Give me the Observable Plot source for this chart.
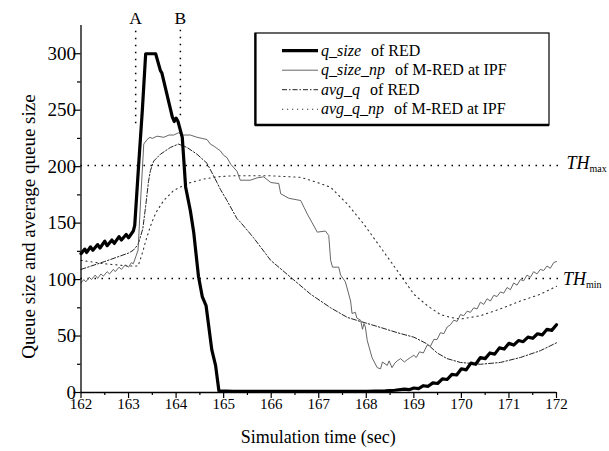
<!DOCTYPE html>
<html><head><meta charset="utf-8">
<script src="https://cdn.jsdelivr.net/npm/d3@7"></script>
<script src="https://cdn.jsdelivr.net/npm/@observablehq/plot@0.6"></script>
<style>
body{margin:0;background:#fff;}
#chart{width:609px;height:451px;}
</style></head><body><div id="chart"></div>
<script>
// ---- data ----
const qSizeT = [162.0,162.08,162.12,162.2,162.25,162.35,162.4,162.5,162.55,162.65,162.7,162.8,162.85,162.95,163.0,163.1,163.13,163.21,163.29,163.36,163.57,163.67,163.7,163.92,163.96,164.0,164.04,164.13,164.2,164.3,164.37,164.47,164.55,164.63,164.75,164.83,164.9,165.2,166.0,167.0,168.0,168.4,168.6,168.8,168.9,169.0,169.1,169.2,169.3,169.4,169.5,169.6,169.7,169.8,169.9,170.0,170.1,170.2,170.3,170.4,170.5,170.6,170.7,170.8,170.9,171.0,171.1,171.2,171.3,171.4,171.5,171.6,171.7,171.8,171.9,172.0];
const qSizeV = [123,127,124,129,126,131,128,134,130,135,132,138,135,140,137,143,148,200,250,300,300,285,283,244,240,243,240,226,182,161,142,103,85,77,38,24,1.5,1,1,1,1,1.5,2,3,2.5,4,3.5,6,5.5,8.5,8,12,11.5,16,15.5,21,20,26,25,31,30,35,34,39.5,38.5,43.5,42,46,45,49,48,52,51,56,55,60,64];

const qNpT = [162.0,162.06,162.1,162.18,162.22,162.3,162.35,162.42,162.47,162.55,162.6,162.68,162.72,162.8,162.85,162.93,163.0,163.06,163.1,163.15,163.2,163.26,163.32,163.39,163.45,163.5,163.6,163.74,163.85,163.95,164.05,164.16,164.3,164.44,164.55,164.65,164.72,164.8,164.93,165.0,165.07,165.15,165.28,165.35,165.56,165.7,165.84,165.99,166.16,166.2,166.37,166.62,166.69,166.76,166.97,167.14,167.21,167.25,167.29,167.42,167.46,167.56,167.67,167.7,167.77,167.8,167.88,167.92,167.95,167.98,168.02,168.12,168.23,168.3,168.34,168.44,168.48,168.54,168.6,168.65,168.72,168.8,168.86,168.93,169.0,169.05,169.12,169.2,169.28,169.35,169.42,169.49,169.56,169.63,169.7,169.77,169.84,169.91,169.98,170.05,170.12,170.19,170.26,170.33,170.4,170.47,170.54,170.61,170.68,170.75,170.82,170.89,170.96,171.03,171.1,171.17,171.24,171.31,171.38,171.45,171.52,171.59,171.66,171.73,171.8,171.87,171.94,172.0];
const qNpV = [97,100,98,102,100,104,101,105,103,107,105,109,107,111,109,113,111,115,114,120,126,175,220,224,226,225,227,226,228,228,230,228,228,226,225,224,220,218,214,210,208,202,196,188,188,190,191,186,185,176,172,170,164,158,142,143,139,117,111,111,104,98,81,70,71,66,64,56,61,58,46,31,22,21,27,24,28,22,26,28,30,27,29,31,33,31,36,35,42,41,47,47,53,52,58,60,64,63,69,68,72,71,75,74,80,78,83,81,86,85,89,88,93,91,97,95,100,99,104,102,107,105,109,108,112,110,115,116];

const avgQT = [162.0,162.5,163.0,163.1,163.2,163.3,163.36,163.42,163.46,163.53,163.67,163.88,164.05,164.23,164.44,164.65,164.86,164.93,165.07,165.28,165.35,165.63,165.99,166.41,166.83,167.25,167.6,167.95,168.3,168.65,169.0,169.28,169.49,169.7,169.98,170.4,170.82,171.24,171.66,172.0];
const avgQV = [109,116,123.5,126,131,145,165,187,196.5,205,211,217,220,217,211,203,186,180,170,154,151,137,117,102,87,75,66.5,62,57.6,53,49,43,35,30,26.6,25,26.6,31,37,44];

const avgNpT = [162.0,162.5,163.0,163.2,163.28,163.36,163.45,163.53,163.6,163.74,163.95,164.05,164.23,164.58,164.86,165.21,165.92,166.62,166.97,167.25,167.6,167.95,168.3,168.65,169.0,169.28,169.56,169.77,169.98,170.4,170.82,171.24,171.66,172.0];
const avgNpV = [117,114,112,112,122,134,146,155,161,170,179,181,185,189,191,192,192,190.6,186,181.7,167,149,128.5,108,87,77,69,66.5,65,68,74,81,87,94];

const xTicks = [162,163,164,165,166,167,168,169,170,171,172];
const xMinor = [162.5,163.5,164.5,165.5,166.5,167.5,168.5,169.5,170.5,171.5];
const yTicks = [0,50,100,150,200,250,300];
const yMinor = [25,75,125,175,225,275];
const thresholds = [{v:201, sub:"max"}, {v:101, sub:"min"}];
const markers = [{t:163.15, label:"A", low:238}, {t:164.09, label:"B", low:245}];
const legendNames = ["q_size","q_size_np","avg_q","avg_q_np"];
const legendRest = ["of RED","of M-RED at IPF","of RED","of M-RED at IPF"];
const xTitle = "Simulation time (sec)";
const yTitle = "Queue size and average queue size";

// ---- drawing ----
const zip = (T, V) => T.map((t, i) => ({t, v: V[i]}));
const font = "'Liberation Serif', 'Times New Roman', serif";
const dotted = "1.5,5.5";
const styles = [
  {stroke:"black", strokeWidth:3.2},
  {stroke:"#555", strokeWidth:0.9},
  {stroke:"#222", strokeWidth:1, strokeDasharray:"5,2,1.5,2"},
  {stroke:"#333", strokeWidth:1.1, strokeDasharray:"1.2,3.8"}
];
const blank = () => "";

const plot = Plot.plot({
  width: 609, height: 451,
  marginLeft: 80.5, marginRight: 53, marginTop: 25, marginBottom: 59,
  style: {fontFamily: font, background: "white", color: "black", overflow: "visible"},
  x: {domain: [162, 172]},
  y: {domain: [0, 325]},
  marks: [
    Plot.ruleY(thresholds, {y: "v", x1: 162, x2: 172.12, stroke: "black", strokeWidth: 1.5, strokeDasharray: dotted}),
    Plot.ruleX(markers, {x: "t", y1: "low", y2: 322, stroke: "black", strokeWidth: 1.5, strokeDasharray: dotted}),
    Plot.text(markers, {x: "t", y: 325, text: "label", dy: -7, fontSize: 17.5}),
    Plot.line(zip(avgNpT, avgNpV), {x: "t", y: "v", ...styles[3]}),
    Plot.line(zip(avgQT, avgQV), {x: "t", y: "v", ...styles[2]}),
    Plot.line(zip(qNpT, qNpV), {x: "t", y: "v", ...styles[1]}),
    Plot.line(zip(qSizeT, qSizeV), {x: "t", y: "v", ...styles[0], strokeLinejoin: "round"}),
    Plot.ruleX([162], {y1: 0, y2: 325, stroke: "black", strokeWidth: 1.3}),
    Plot.ruleY([0], {x1: 162, x2: 172, stroke: "black", strokeWidth: 1.3}),
    Plot.axisX({ticks: xTicks, tickSize: 6, strokeWidth: 1.2, label: null, tickFormat: blank}),
    Plot.axisX({ticks: xMinor, tickSize: 3, strokeWidth: 1.2, label: null, tickFormat: blank}),
    Plot.axisX({ticks: xTicks, tickSize: 0, tickPadding: 6, fontSize: 15, label: null, tickFormat: d => String(d)}),
    Plot.axisY({ticks: yTicks, tickSize: 7, strokeWidth: 1.2, label: null, tickFormat: blank}),
    Plot.axisY({ticks: yMinor, tickSize: 3.5, strokeWidth: 1.2, label: null, tickFormat: blank}),
    Plot.axisY({ticks: yTicks, tickSize: 0, tickPadding: 5, fontSize: 19, label: null, tickFormat: d => String(d)})
  ]
});
document.getElementById("chart").appendChild(plot);

const xs = plot.scale("x"), ys = plot.scale("y");
const svg = d3.select(plot);
const extra = svg.append("g").attr("font-family", font).attr("fill", "black");

// axis titles
extra.append("text").attr("transform", `translate(35,226.5) rotate(-90)`)
  .attr("text-anchor", "middle").attr("font-size", 19).text(yTitle);
extra.append("text").attr("x", (xs.apply(162) + xs.apply(172)) / 2).attr("y", ys.apply(0) + 50.5)
  .attr("text-anchor", "middle").attr("font-size", 18).text(xTitle);

// threshold labels TH_max / TH_min
thresholds.forEach((d, i) => {
  const t = extra.append("text").attr("text-anchor", "start")
    .attr("x", xs.apply(172) + (i === 0 ? 10.5 : 7))
    .attr("y", ys.apply(d.v) + (i === 0 ? 3.5 : 7));
  t.append("tspan").attr("font-style", "italic").attr("font-size", 18).text("TH");
  t.append("tspan").attr("font-size", 10).attr("dy", 3.5).text(d.sub);
});

// legend box inside the plot area
const lg = svg.append("g").attr("font-family", font).attr("font-size", 16).attr("text-anchor", "start");
lg.append("rect").attr("x", 255).attr("y", 33).attr("width", 294).attr("height", 92)
  .attr("fill", "white").attr("stroke", "black").attr("stroke-width", 1.2);
lg.append("line").attr("x1", 255.5).attr("x2", 255.5).attr("y1", 33).attr("y2", 125.5).attr("stroke", "black").attr("stroke-width", 2.2);
lg.append("line").attr("x1", 255).attr("x2", 549).attr("y1", 125).attr("y2", 125).attr("stroke", "black").attr("stroke-width", 2.4);
legendNames.forEach((name, i) => {
  const y = 50.7 + i * 19.5;
  const s = styles[i];
  lg.append("line").attr("x1", 282).attr("x2", 318).attr("y1", y).attr("y2", y)
    .attr("stroke", s.stroke).attr("stroke-width", s.strokeWidth)
    .attr("stroke-dasharray", s.strokeDasharray || null);
  const t = lg.append("text").attr("x", 321).attr("y", y + 4.8).attr("fill", "black");
  t.append("tspan").attr("font-style", "italic").text(name);
  t.append("tspan").attr("dx", 10).text(legendRest[i]);
});
</script>
</body></html>
